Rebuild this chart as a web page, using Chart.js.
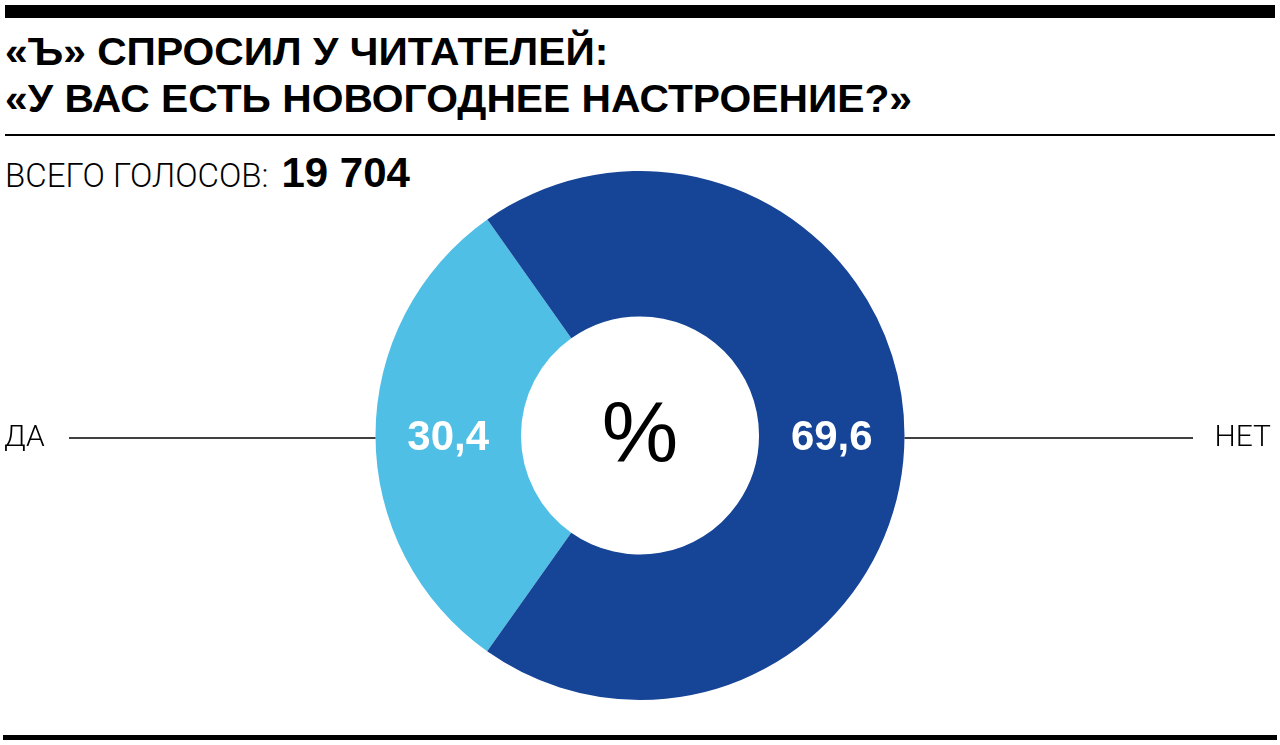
<!DOCTYPE html>
<html><head><meta charset="utf-8">
<script src="https://cdn.jsdelivr.net/npm/chart.js@4/dist/chart.umd.min.js"></script>
<style>
html,body{margin:0;padding:0;background:#fff;width:1280px;height:745px;overflow:hidden;}
#wrap{position:relative;width:1280px;height:745px;}
.bar{position:absolute;background:#000;}
.title{position:absolute;left:5px;font-family:"Liberation Sans",Arial,sans-serif;font-weight:bold;font-size:39px;line-height:48px;color:#000;white-space:nowrap;transform-origin:0 50%;}
.total{position:absolute;left:5px;top:149px;white-space:nowrap;color:#000;}
.total .lab{font-family:Roboto,"Liberation Sans",sans-serif;font-weight:300;font-size:33px;}
.total .num{font-family:"Liberation Sans","Roboto",sans-serif;font-weight:bold;font-size:42px;margin-left:13px;}
#cbox{position:absolute;left:0;top:171px;width:1280px;height:529px;}
</style></head>
<body><div id="wrap">
<div class="bar" style="left:5px;top:5px;width:1270px;height:13px;"></div>
<div class="title" id="t1" style="top:28px;">«Ъ» СПРОСИЛ У ЧИТАТЕЛЕЙ:</div>
<div class="title" id="t2" style="top:75px;">«У ВАС ЕСТЬ НОВОГОДНЕЕ НАСТРОЕНИЕ?»</div>
<div class="bar" style="left:5px;top:134px;width:1270px;height:2px;"></div>
<div class="total"><span class="lab">ВСЕГО ГОЛОСОВ:</span><span class="num">19 704</span></div>
<div id="cbox"><canvas id="c"></canvas></div>
<div class="bar" style="left:3px;top:735px;width:1274px;height:5px;"></div>
</div>
<script>
const categories = ["ДА", "НЕТ"];
const values = [30.4, 69.6];
const valueLabels = ["30,4", "69,6"];
const centerLabel = "%";
const colors = ["#50BFE6", "#164496"];

// condense title to the reference width
(function(){
  const t2 = document.getElementById("t2");
  const w = t2.getBoundingClientRect().width;
  const s = 907 / w;
  document.getElementById("t1").style.transform = "scaleX(" + s + ")";
  t2.style.transform = "scaleX(" + s + ")";
})();

const sidePlugin = {
  id: "side",
  afterDatasetsDraw(chart) {
    const ctx = chart.ctx;
    const arc = chart.getDatasetMeta(0).data[0];
    const cx = arc.x, cy = arc.y, R = arc.outerRadius, r = arc.innerRadius;
    const mid = (R + r) / 2;
    const ly = cy + 2.5;
    ctx.save();
    ctx.strokeStyle = "#000"; ctx.lineWidth = 1.5;
    ctx.beginPath(); ctx.moveTo(69, ly); ctx.lineTo(cx - R, ly); ctx.stroke();
    ctx.beginPath(); ctx.moveTo(cx + R, ly); ctx.lineTo(1193, ly); ctx.stroke();
    ctx.fillStyle = "#000";
    ctx.font = "300 30px Roboto, 'Liberation Sans', sans-serif";
    ctx.textBaseline = "middle";
    ctx.textAlign = "left"; ctx.fillText(categories[0], 4, ly);
    ctx.textAlign = "right"; ctx.fillText(categories[1], 1271, ly);
    ctx.fillStyle = "#fff";
    ctx.font = "bold 42px 'Liberation Sans', Arial, sans-serif";
    ctx.textAlign = "center";
    ctx.fillText(valueLabels[0], cx - mid, ly);
    ctx.fillText(valueLabels[1], cx + mid, ly);
    ctx.fillStyle = "#000";
    ctx.font = "300 86px 'Liberation Sans', Roboto, sans-serif";
    ctx.fillText(centerLabel, cx, ly);
    ctx.restore();
  }
};

new Chart(document.getElementById("c"), {
  type: "doughnut",
  data: { labels: categories, datasets: [{ data: values, backgroundColor: colors, borderWidth: 0 }] },
  options: {
    responsive: true, maintainAspectRatio: false, animation: false,
    rotation: 215.3, cutout: "45%",
    layout: { padding: 0 },
    plugins: { legend: { display: false }, tooltip: { enabled: false } }
  },
  plugins: [sidePlugin]
});
</script>
</body></html>
